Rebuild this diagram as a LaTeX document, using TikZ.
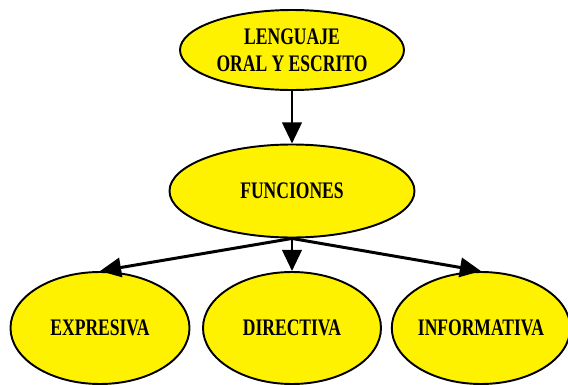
\documentclass[tikz,border=0pt]{standalone}
\usepackage{fontspec}
\setmainfont{Liberation Serif}[FakeStretch=0.74]
\usetikzlibrary{shapes.geometric,arrows.meta}
\begin{document}
\begin{tikzpicture}[
        oval/.style={ellipse, draw, line width=1.1pt, fill=yellow, inner sep=0pt, align=center,
                     font=\fontsize{13.5}{15.5}\selectfont\bfseries},
        arrow/.style={-{Triangle[length=12pt,width=11pt]}, line width=1.7pt}
    ]
        \useasboundingbox (0,0) rectangle (11.36,-7.7);

        % Ovals
        \node[oval, minimum width=4.48cm, minimum height=1.6cm] (lang) at (5.84,-1.0) {
            LENGUAJE\\
            ORAL Y ESCRITO
        };

        \node[oval, minimum width=4.9cm, minimum height=1.86cm] (fun) at (5.84,-3.82) {FUNCIONES};

        \node[oval, minimum width=3.58cm, minimum height=2.24cm] (exp) at (2.0,-6.56) {EXPRESIVA};
        \node[oval, minimum width=3.56cm, minimum height=2.24cm] (dir) at (5.84,-6.56) {DIRECTIVA};
        \node[oval, minimum width=3.46cm, minimum height=2.24cm] (inf) at (9.62,-6.56) {INFORMATIVA};

        % Arrows
        \draw[arrow] (lang.south) -- (fun.north);
        \draw[arrow] (fun.south) -- (exp.north);
        \draw[arrow] (fun.south) -- (dir.north);
        \draw[arrow] (fun.south) -- (inf.north);
    \end{tikzpicture}
\end{document}
